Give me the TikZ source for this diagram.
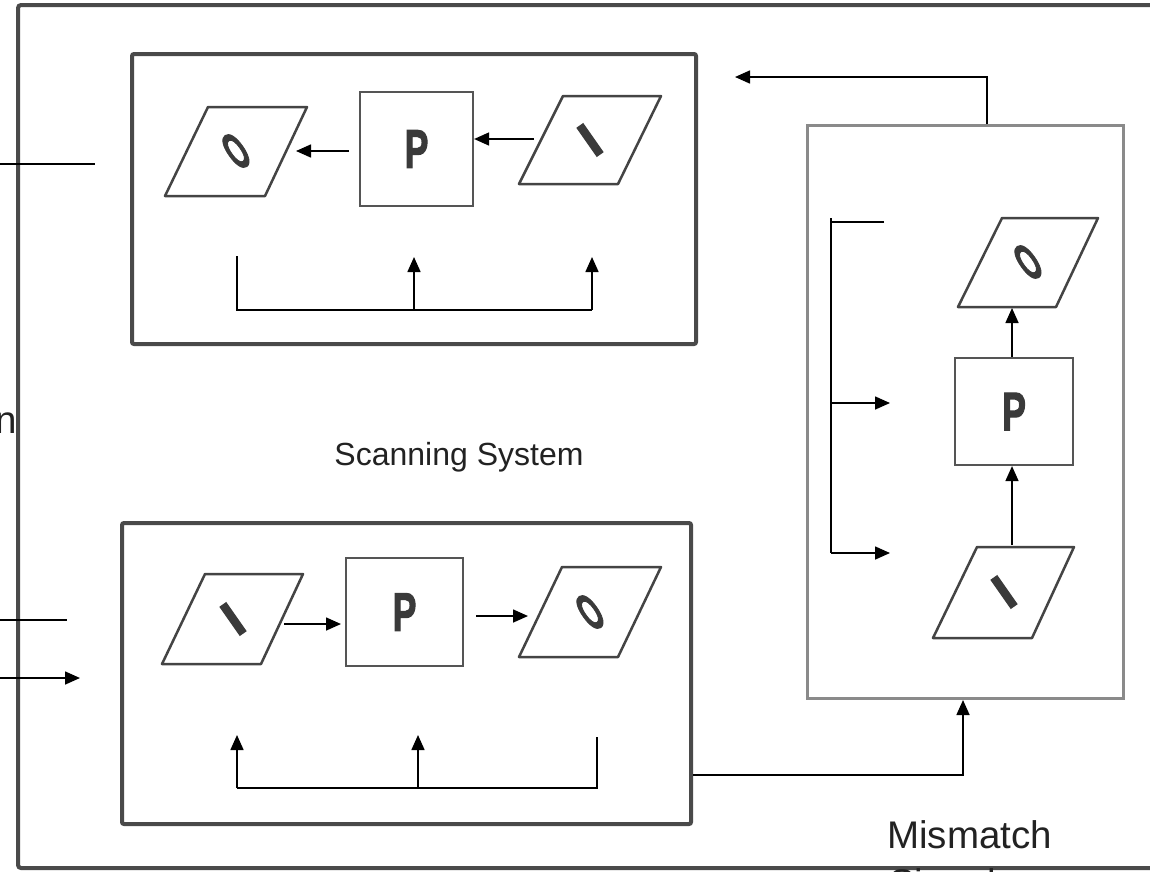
\documentclass[tikz,border=0pt]{standalone}
\usepackage{fontspec}
\setmainfont{Liberation Sans}
\newfontfamily\heavyfont{Liberation Sans}[BoldFeatures={FakeBold=2.5}]
\usetikzlibrary{arrows.meta}
\definecolor{framegray}{HTML}{4A4A4A}
\definecolor{mgray}{HTML}{8A8A8A}
\definecolor{pgray}{HTML}{555555}
\definecolor{dgray}{HTML}{444444}
\definecolor{lgray}{HTML}{3A3A3A}
\definecolor{txt}{HTML}{222222}
\tikzset{
  bigbox/.style={draw=framegray, line width=4pt, rounded corners=2pt, inner sep=0pt},
  mbox/.style={draw=mgray, line width=3pt, inner sep=0pt},
  pbox/.style={draw=pgray, line width=2.2pt, inner sep=0pt},
  para/.style={draw=dgray, line width=2.5pt, line join=round},
  conn/.style={line width=1.6pt, black},
  arr/.style={conn, -{Triangle[length=15pt,width=13pt]}},
  letter/.style={text=lgray, font=\heavyfont\fontsize{50}{50}\selectfont\bfseries, inner sep=0pt},
  pletter/.style={text=lgray, font=\heavyfont\fontsize{54}{54}\selectfont\bfseries},
  oletter/.style={text=lgray, font=\heavyfont\fontsize{53}{53}\selectfont\bfseries, inner sep=0pt},
  label/.style={text=txt, inner sep=0pt}
}
\begin{document}
\begin{tikzpicture}[x=1pt,y=-1pt]
\useasboundingbox (0,0) rectangle (1150,871);
\clip (0,0) rectangle (1150,871);
\fill[white] (0,0) rectangle (1150,871);

% outer frame (open on the right)
\draw[draw=framegray, line width=4pt, rounded corners=3pt] (1160,5) -- (18,5) -- (18,868) -- (1160,868);

% ---------- top scanning box ----------
\node[bigbox, minimum width=564pt, minimum height=290pt, anchor=north west] (box1) at (130,52) {};
\draw[para] (208,107) -- (307,107) -- (265,196) -- (165,196) -- cycle;
\node[oletter, rotate=35] (o1) at (236,151) {\scalebox{0.45}[1]{O}};
\node[pbox, minimum width=113pt, minimum height=114pt, pletter] (p1) at (416.5,149) {\scalebox{0.66}[1]{P}};
\draw[para] (563,96) -- (661,96) -- (618,184) -- (519,184) -- cycle;
\node[letter, rotate=35] (i1) at (590,140) {I};
\coordinate (a1) at (534,139);
\draw[arr] (a1) -- (a1 -| p1.east);
\coordinate (b1s) at (349,151);
\coordinate (b1e) at (296,151);
\draw[arr] (b1s) -- (b1e);
\coordinate (f1a) at (237,256);
\coordinate (f1b) at (592,310);
\draw[conn] (f1a) |- (f1b);
\coordinate (f1c) at (414,310);
\draw[arr] (f1c) -- (414,257);
\draw[arr] (f1b) -- (592,257);
\coordinate (l1) at (0,164);
\draw[conn] (l1) -- (95,164);

% ---------- bottom scanning box ----------
\node[bigbox, minimum width=569pt, minimum height=301pt, anchor=north west] (box2) at (120,521) {};
\draw[para] (205,574) -- (303,574) -- (261,664) -- (162,664) -- cycle;
\node[letter, rotate=35] (i2) at (233,619) {I};
\node[pbox, minimum width=117pt, minimum height=108pt, pletter] (p2) at (404.5,612) {\scalebox{0.66}[1]{P}};
\draw[para] (562,567) -- (661,567) -- (618,657) -- (519,657) -- cycle;
\node[oletter, rotate=35] (o2) at (590,612) {\scalebox{0.45}[1]{O}};
\coordinate (a2) at (284,624);
\draw[arr] (a2) -- (341,624);
\coordinate (b2) at (476,616);
\draw[arr] (b2) -- (528,616);
\coordinate (f2a) at (597,737);
\coordinate (f2b) at (237,788);
\draw[conn] (f2a) |- (f2b);
\draw[arr] (f2b) -- (237,735);
\coordinate (f2c) at (418,788);
\draw[arr] (f2c) -- (418,735);
\coordinate (l2) at (0,620);
\draw[conn] (l2) -- (67,620);
\coordinate (l3) at (0,678);
\draw[arr] (l3) -- (80,678);

% ---------- mismatch box ----------
\node[mbox, minimum width=316pt, minimum height=573pt, anchor=north west] (mm) at (806,124) {};
\draw[para] (1002,218) -- (1098,218) -- (1056,307) -- (958,307) -- cycle;
\node[oletter, rotate=35] (o3) at (1028,262) {\scalebox{0.45}[1]{O}};
\node[pbox, minimum width=118pt, minimum height=107pt, pletter] (p3) at (1014,411.5) {\scalebox{0.66}[1]{P}};
\draw[para] (977,547) -- (1074,547) -- (1032,638) -- (933,638) -- cycle;
\node[letter, rotate=35] (i3) at (1004,592) {I};
\draw[arr] (p3.north -| 1012,0) -- (1012,308);
\coordinate (c3) at (1012,545);
\draw[arr] (c3) -- (c3 |- p3.south);
\coordinate (k1) at (884,222);
\coordinate (k2) at (831,553);
\draw[conn] (k1) -| (k2);
\draw[conn] (831,218) -- (831,222);
\draw[arr] (k2) -- (890,553);
\coordinate (k3) at (831,403);
\draw[arr] (k3) -- (890,403);

% connectors between boxes
\coordinate (t1) at (987,124);
\draw[arr] (t1) |- (735,77);
\coordinate (s2) at (box2.east |- 0,775);
\draw[arr] (s2) -| (963,700);

% ---------- labels ----------
\node[label, anchor=base, font=\fontsize{32}{32}\selectfont] (scan) at (459,465) {Scanning System};
\node[label, anchor=base west, font=\fontsize{38.5}{40}\selectfont] (mis) at (887,848) {Mismatch};
\node[label, anchor=base west, font=\fontsize{38.5}{40}\selectfont] (sig) at (889,896) {Signal};
\node[label, anchor=base east, font=\fontsize{38.5}{40}\selectfont] (nn) at (17,433) {n};
\end{tikzpicture}
\end{document}
